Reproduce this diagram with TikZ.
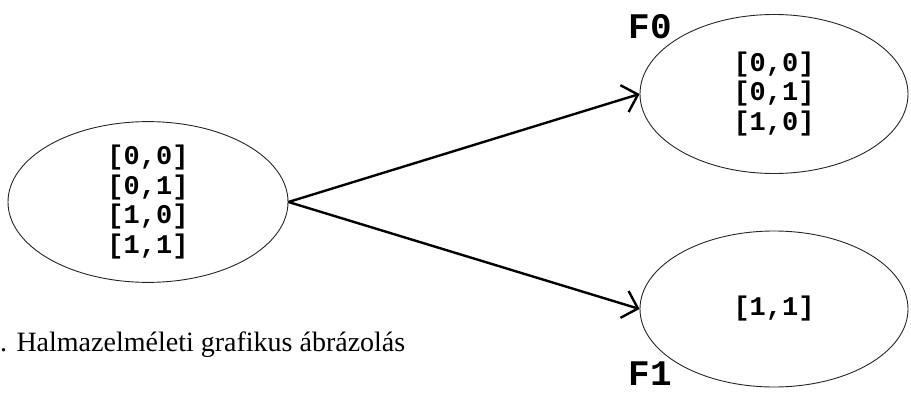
\documentclass[tikz,border=0pt]{standalone}
\usepackage{fontspec}
\setmainfont{Liberation Serif}
\setmonofont{Liberation Mono}
\usetikzlibrary{shapes.geometric, arrows.meta}

\begin{document}
\begin{tikzpicture}[
  x = 1pt, y = -1pt,
  set/.style   = {ellipse, draw=black!85, line width=0.9pt, inner sep=0pt,
                  align=center, font=\ttfamily\bfseries\fontsize{27}{29.5}\selectfont},
  tag/.style   = {font=\ttfamily\bfseries\fontsize{36}{36}\selectfont, inner sep=0pt},
  arrow/.style = {-{Straight Barb[length=14pt, width=28pt]}, line width=2.4pt},
]
  \useasboundingbox (0,0) rectangle (911,393);

  \node[set, minimum width=280pt, minimum height=156pt] (all) at (148,202) {[0,0]\\{}[0,1]\\{}[1,0]\\{}[1,1]};
  \node[set, minimum width=268pt, minimum height=159pt] (f0)  at (774,94)  {[0,0]\\{}[0,1]\\{}[1,0]};
  \node[set, minimum width=268pt, minimum height=156pt] (f1)  at (774,309) {[1,1]};

  \node[tag] (f0tag) at (650,27)  {F0};
  \node[tag] (f1tag) at (650,374) {F1};

  \node[anchor=west, inner sep=0pt, font=\fontsize{28}{28}\selectfont] (caption) at (0,345)
    {. Halmazelméleti grafikus ábrázolás};

  \draw[arrow] (all.east) -- (f0.west);
  \draw[arrow] (all.east) -- (f1.west);
\end{tikzpicture}
\end{document}
